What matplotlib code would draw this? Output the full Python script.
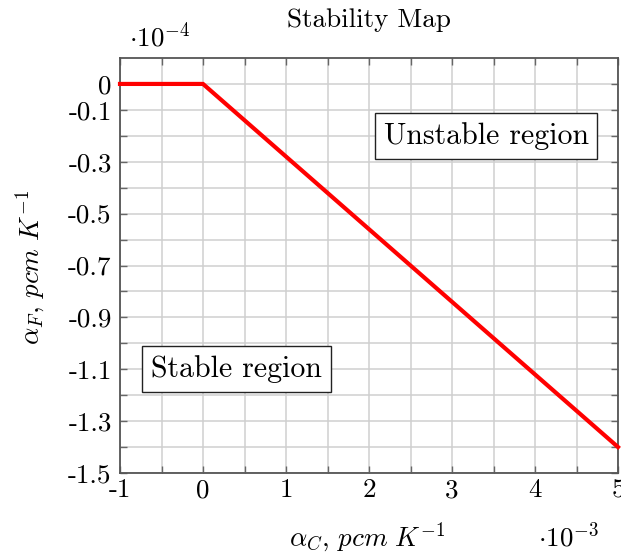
import numpy as np
import matplotlib
matplotlib.use("Agg")
import matplotlib.pyplot as plt

# Stability boundary (x in 1e-3, y in 1e-4 pcm/K)
alpha_c = [-1, 0, 5]
alpha_f = [0, 0, -1.4]

x_ticks = np.arange(-1, 5.01, 0.5)
x_labels = ["-1", "", "0", "", "1", "", "2", "", "3", "", "4", "", "5"]
y_ticks = np.round(np.arange(-1.5, 0.01, 0.1), 1)
y_labels = ["-1.5", "", "-1.3", "", "-1.1", "", "-0.9", "", "-0.7", "", "-0.5", "", "-0.3", "", "-0.1", "0"]

plt.rcParams['font.family'] = ['cmr10', 'DejaVu Serif']
plt.rcParams['mathtext.fontset'] = 'cm'
plt.rcParams['axes.unicode_minus'] = False

W, H = 621, 556
fig = plt.figure(figsize=(W / 100, H / 100), dpi=100)
ax = fig.add_axes([120 / W, 1 - 473 / H, 498 / W, 415 / H])

ax.plot(alpha_c, alpha_f, color='red', linewidth=3.0, zorder=3,
        clip_on=False, solid_joinstyle='miter')

ax.set_xlim(-1, 5)
ax.set_ylim(-1.5, 0.1)
ax.set_xticks(x_ticks)
ax.set_xticklabels(x_labels, fontsize=19.5)
ax.set_yticks(y_ticks)
ax.set_yticklabels(y_labels, fontsize=19.5)
ax.grid(True, color='#cfcfcf', linewidth=1.1)
ax.set_axisbelow(True)
ax.tick_params(direction='in', length=5, width=1.0, color='#666666',
               top=True, right=True)
ax.tick_params(axis='x', pad=4)
ax.tick_params(axis='y', pad=6)
for s in ax.spines.values():
    s.set_color('#555555')
    s.set_linewidth(1.3)

fig.text(369 / W, 1 - 20 / H, "Stability Map", fontsize=19.5, ha='center', va='center')
fig.text(367 / W, 1 - 538 / H, r"$\alpha_C,\, pcm\ K^{-1}$", fontsize=19.5,
         ha='center', va='center')
fig.text(31 / W, 1 - 267 / H, r"$\alpha_F,\, pcm\ K^{-1}$", fontsize=19.5,
         ha='center', va='center', rotation=90)
fig.text(160 / W, 1 - 36 / H, r"$\cdot 10^{-4}$", fontsize=19.5, ha='center', va='center')
fig.text(569 / W, 1 - 536 / H, r"$\cdot 10^{-3}$", fontsize=19.5, ha='center', va='center')

box = dict(boxstyle='square,pad=0.3', facecolor='white', edgecolor='#222222', linewidth=1.0)
ax.text(3.41, -0.2, "Unstable region", fontsize=21.5, ha='center', va='center', bbox=box, zorder=4)
ax.text(0.40, -1.1, "Stable region", fontsize=21.5, ha='center', va='center', bbox=box, zorder=4)

fig.savefig("out.png", dpi=100)
